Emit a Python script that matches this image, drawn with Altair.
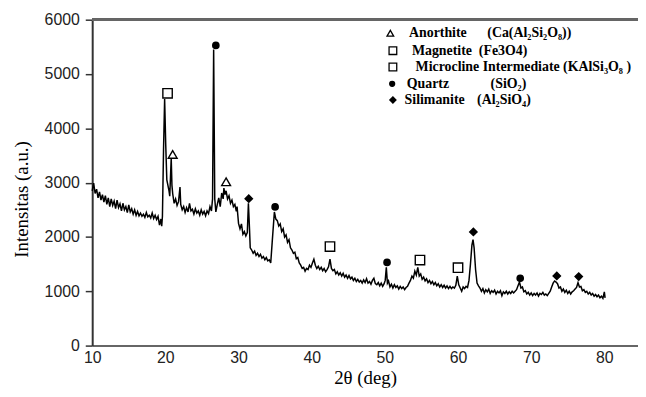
import altair as alt
import pandas as pd

# ---- XRD scan ----
two_theta = [
    10.0, 10.2, 10.4, 10.6, 10.8, 11.0, 11.2, 11.4, 11.6, 11.8,
    12.0, 12.2, 12.4, 12.6, 12.8, 13.0, 13.2, 13.4, 13.6, 13.8,
    14.0, 14.2, 14.4, 14.6, 14.8, 15.0, 15.2, 15.4, 15.6, 15.8,
    16.0, 16.2, 16.4, 16.6, 16.8, 17.0, 17.2, 17.4, 17.6, 17.8,
    18.0, 18.2, 18.4, 18.6, 18.8, 19.0, 19.2, 19.4, 19.5, 19.6,
    19.75, 19.9, 20.05, 20.2, 20.35, 20.5, 20.6, 20.7, 20.8, 20.9,
    21.0, 21.2, 21.4, 21.6, 21.8, 22.0, 22.1, 22.3, 22.5, 22.7,
    22.9, 23.1, 23.3, 23.5, 23.7, 23.9, 24.1, 24.3, 24.5, 24.7,
    24.9, 25.1, 25.3, 25.5, 25.7, 25.9, 26.1, 26.3, 26.45, 26.6,
    26.75, 26.9, 27.1, 27.3, 27.5, 27.7, 27.9, 28.0, 28.15, 28.3,
    28.5, 28.7, 28.9, 29.1, 29.3, 29.5, 29.7, 29.8, 30.0, 30.2,
    30.4, 30.6, 30.8, 31.0, 31.2, 31.35, 31.5, 31.6, 31.8, 32.0,
    32.2, 32.4, 32.6, 32.8, 33.0, 33.2, 33.4, 33.6, 33.8, 34.0,
    34.2, 34.4, 34.6, 34.9, 35.1, 35.3, 35.5, 35.7, 35.9, 36.1,
    36.3, 36.5, 36.7, 36.9, 37.1, 37.3, 37.5, 37.7, 37.9, 38.1,
    38.3, 38.5, 38.7, 38.9, 39.1, 39.3, 39.5, 39.7, 39.9, 40.1,
    40.3, 40.5, 40.7, 40.9, 41.1, 41.3, 41.5, 41.7, 41.9, 42.1,
    42.3, 42.5, 42.7, 42.9, 43.1, 43.3, 43.5, 43.7, 43.9, 44.1,
    44.3, 44.5, 44.7, 44.9, 45.1, 45.3, 45.5, 45.7, 45.9, 46.1,
    46.3, 46.5, 46.7, 46.9, 47.1, 47.3, 47.5, 47.7, 47.9, 48.1,
    48.3, 48.5, 48.7, 48.9, 49.1, 49.3, 49.5, 49.7, 49.9, 50.05,
    50.2, 50.35, 50.5, 50.7, 50.9, 51.1, 51.3, 51.5, 51.7, 51.9,
    52.1, 52.3, 52.5, 52.7, 52.9, 53.1, 53.3, 53.5, 53.7, 53.9,
    54.1, 54.3, 54.5, 54.7, 54.9, 55.1, 55.3, 55.5, 55.7, 55.9,
    56.1, 56.3, 56.5, 56.7, 56.9, 57.1, 57.3, 57.5, 57.7, 57.9,
    58.1, 58.3, 58.5, 58.7, 58.9, 59.1, 59.3, 59.5, 59.7, 59.9,
    60.1, 60.3, 60.5, 60.7, 60.9, 61.1, 61.3, 61.5, 61.7, 61.9,
    62.05, 62.2, 62.4, 62.6, 62.8, 63.0, 63.2, 63.4, 63.6, 63.8,
    64.0, 64.2, 64.4, 64.6, 64.8, 65.0, 65.2, 65.4, 65.6, 65.8,
    66.0, 66.2, 66.4, 66.6, 66.8, 67.0, 67.2, 67.4, 67.6, 67.8,
    68.0, 68.2, 68.4, 68.6, 68.8, 69.0, 69.2, 69.4, 69.6, 69.8,
    70.0, 70.2, 70.4, 70.6, 70.8, 71.0, 71.2, 71.4, 71.6, 71.8,
    72.0, 72.2, 72.4, 72.6, 72.8, 73.0, 73.2, 73.4, 73.6, 73.8,
    74.0, 74.2, 74.4, 74.6, 74.8, 75.0, 75.2, 75.4, 75.6, 75.8,
    76.0, 76.2, 76.4, 76.6, 76.8, 77.0, 77.2, 77.4, 77.6, 77.8,
    78.0, 78.2, 78.4, 78.6, 78.8, 79.0, 79.2, 79.4, 79.6, 79.8,
    80.0, 80.1,
]
intensity = [
    2850, 2990, 2800, 2880, 2720, 2830, 2680, 2780, 2640, 2760,
    2600, 2720, 2560, 2700, 2580, 2660, 2520, 2680, 2540, 2610,
    2480, 2620, 2500, 2560, 2450, 2590, 2460, 2520, 2420, 2500,
    2400, 2470, 2390, 2440, 2380, 2420, 2360, 2450, 2370, 2400,
    2350, 2440, 2340, 2400, 2320, 2380, 2220, 2330, 2200, 2380,
    3600, 4540, 3700, 3050, 2950, 2850, 2750, 3100, 3450, 2950,
    2800, 2620, 2700, 2580, 2650, 2920, 2600, 2500, 2560, 2450,
    2540, 2460, 2620, 2480, 2510, 2420, 2520, 2440, 2480, 2400,
    2500, 2420, 2470, 2390, 2480, 2430, 2560, 2480, 2700, 5450,
    2700, 2460, 2600, 2720, 2560, 2810, 2700, 2900, 2780, 2850,
    2700, 2760, 2620, 2680, 2560, 2600, 2470, 2560, 2250, 2150,
    2240, 2050, 2100, 2020, 2080, 2620, 2150, 1800, 1760, 1700,
    1740, 1660, 1700, 1640, 1680, 1610, 1640, 1580, 1620, 1560,
    1580, 1520, 1900, 2460, 2330, 2300, 2200, 2240, 2100, 2150,
    2000, 2040, 1900, 1950, 1800, 1760, 1700, 1720, 1600, 1620,
    1520, 1480, 1420, 1440, 1370, 1420, 1400, 1480, 1440, 1520,
    1590, 1480, 1420, 1460, 1400, 1440, 1380, 1420, 1360, 1400,
    1450, 1590, 1420, 1380, 1400, 1320, 1360, 1300, 1340, 1280,
    1330, 1260, 1300, 1240, 1290, 1230, 1260, 1200, 1240, 1180,
    1220, 1170, 1200, 1150, 1210, 1160, 1230, 1150, 1180, 1130,
    1200, 1240, 1140, 1120, 1160, 1100, 1150, 1090, 1140, 1200,
    1440, 1150, 1190, 1080, 1130, 1060, 1120, 1070, 1100, 1040,
    1090, 1050, 1080, 1030, 1070, 1090, 1150, 1200, 1280, 1240,
    1370, 1300, 1440, 1280, 1320, 1220, 1260, 1190, 1230, 1160,
    1200, 1140, 1180, 1120, 1160, 1100, 1140, 1080, 1120, 1070,
    1110, 1060, 1100, 1050, 1090, 1050, 1080, 1060, 1110, 1280,
    1120, 1060, 1000, 1080, 1050, 1090, 1070, 1200, 1500, 1850,
    1950, 1800, 1400, 1150, 1100, 1060, 1000, 1050, 970, 1030,
    990, 1040, 960, 1010, 980, 1020, 950, 1000, 970, 1010,
    920, 990, 960, 1000, 950, 990, 960, 1000, 970, 1000,
    1030, 1100, 1170, 1060, 1080, 990, 1010, 950, 980, 930,
    970, 920, 960, 930, 970, 910, 960, 940, 980, 930,
    950, 920, 960, 1000, 1080, 1150, 1190, 1170, 1140, 1060,
    1080, 1000, 1040, 980, 1020, 960, 1000, 950, 990, 1010,
    1040, 1070, 1160, 1080, 1090, 1010, 1030, 980, 1000, 950,
    980, 930, 960, 910, 940, 900, 930, 880, 910, 870,
    990, 880,
]

# ---- phase markers placed over the peaks ----
peak_theta = [20.3, 21.0, 26.9, 28.3, 31.4, 35.0, 42.5, 50.3, 54.8, 60.0, 62.1, 68.5, 73.5, 76.5]
peak_intensity = [4645, 3520, 5526, 3015, 2705, 2553, 1824, 1532, 1574, 1435, 2092, 1240, 1282, 1271]
peak_phase = ["Magnetite", "Anorthite", "Quartz", "Anorthite", "Silimanite", "Quartz",
              "Microcline", "Quartz", "Microcline", "Magnetite", "Silimanite", "Quartz",
              "Silimanite", "Silimanite"]

# ---- key (legend) texts ----
phases = ["Anorthite", "Magnetite", "Microcline", "Quartz", "Silimanite"]
legend_name = ["Anorthite", "Magnetite", "Microcline Intermediate (KAlSi\u2083O\u2088 )", "Quartz", "Silimanite"]
legend_formula = ["(Ca(Al\u2082Si\u2082O\u2088))", "(Fe3O4)", "", "(SiO\u2082)", "(Al\u2082SiO\u2084)"]

x_ticks = [10, 20, 30, 40, 50, 60, 70, 80]
y_ticks = [0, 500, 1000, 1500, 2000, 2500, 3000, 3500, 4000, 4500, 5000, 5500, 6000]

# ---- styles / layout ----
SHAPE = {"Anorthite": "triangle-up", "Magnetite": "square", "Microcline": "square",
         "Quartz": "circle", "Silimanite": "diamond"}
FILL = {"Anorthite": "white", "Magnetite": "white", "Microcline": "white",
        "Quartz": "black", "Silimanite": "black"}
PEAK_SIZE = {"Anorthite": 80, "Magnetite": 90, "Microcline": 90, "Quartz": 40, "Silimanite": 55}
KEY_SIZE = {"Anorthite": 45, "Magnetite": 60, "Microcline": 60, "Quartz": 25, "Silimanite": 38}
key_x = [50.75, 51.1, 51.1, 51.0, 51.1]
name_x = [53.3, 53.7, 54.2, 53.0, 52.7]
formula_x = [64.0, 62.85, 0, 64.45, 62.6]
row_y = [5750, 5430, 5130, 4820, 4523]

n = min(len(two_theta), len(intensity))
scan = pd.DataFrame({"two_theta": two_theta[:n], "intensity": intensity[:n]})

peaks = pd.DataFrame({"two_theta": peak_theta, "intensity": peak_intensity, "phase": peak_phase})
peaks["shape"] = peaks["phase"].map(SHAPE)
peaks["fill"] = peaks["phase"].map(FILL)
peaks["size"] = peaks["phase"].map(PEAK_SIZE)

keys = pd.DataFrame({"two_theta": key_x, "intensity": row_y, "phase": phases})
keys["shape"] = keys["phase"].map(SHAPE)
keys["fill"] = keys["phase"].map(FILL)
keys["size"] = keys["phase"].map(KEY_SIZE)

names = pd.DataFrame({"two_theta": name_x, "intensity": row_y, "label": legend_name})
formulas = pd.DataFrame({"two_theta": formula_x, "intensity": row_y, "label": legend_formula})
formulas = formulas[formulas["label"] != ""]

xs = alt.Scale(domain=[10, 84.6], nice=False, zero=False)
ys = alt.Scale(domain=[0, 6000], nice=False)

xax = alt.Axis(
    values=x_ticks, format="d", title="2\u03b8 (deg)", grid=False, ticks=False, tickSize=0,
    labelFont="Liberation Sans", labelFontSize=16, labelColor="#222", labelPadding=4,
    labelFlush=False, domainColor="#666", domainWidth=2,
    titleFont="Liberation Serif", titleFontSize=19, titleFontWeight="normal",
    titleColor="black", titleY=32, titleBaseline="middle",
)
yax = alt.Axis(
    values=y_ticks, format="d", labelExpr="datum.value % 1000 == 0 ? datum.label : ''",
    title="Intensitas (a.u.)", grid=False, tickSize=7, tickColor="#333", tickWidth=1.5,
    labelFont="Liberation Sans", labelFontSize=16, labelColor="#222", labelPadding=6,
    labelFlush=False, domainColor="#333", domainWidth=2,
    titleFont="Liberation Serif", titleFontSize=19, titleFontWeight="normal",
    titleColor="black", titleX=-71, titleY=181, titleBaseline="middle", titleAlign="center",
)


def X(f):
    return alt.X(f, type="quantitative", scale=xs, axis=xax)


def Y(f):
    return alt.Y(f, type="quantitative", scale=ys, axis=yax)


line = alt.Chart(scan).mark_line(color="black", strokeWidth=1.5).encode(
    x=X("two_theta"), y=Y("intensity")
)
top = alt.Chart(scan).mark_rule(color="#666", strokeWidth=2).encode(y=alt.datum(6000))

peak_marks = alt.Chart(peaks).mark_point(filled=True, stroke="black", strokeWidth=1.4, opacity=1).encode(
    x=X("two_theta"), y=Y("intensity"),
    shape=alt.Shape("shape:N", scale=None),
    fill=alt.Fill("fill:N", scale=None),
    size=alt.Size("size:Q", scale=None),
)
key_marks = alt.Chart(keys).mark_point(filled=True, stroke="black", strokeWidth=1.3, opacity=1).encode(
    x=X("two_theta"), y=Y("intensity"),
    shape=alt.Shape("shape:N", scale=None),
    fill=alt.Fill("fill:N", scale=None),
    size=alt.Size("size:Q", scale=None),
)
txt = dict(align="left", baseline="middle", font="Liberation Serif", fontWeight="bold",
           fontSize=14, color="black")
name_marks = alt.Chart(names).mark_text(**txt).encode(x=X("two_theta"), y=Y("intensity"), text="label:N")
formula_marks = alt.Chart(formulas).mark_text(**txt).encode(x=X("two_theta"), y=Y("intensity"), text="label:N")

chart = alt.layer(line, top, peak_marks, key_marks, name_marks, formula_marks).properties(
    width=551, height=329,
    padding={"left": 85, "top": 10, "right": 0, "bottom": 41},
    autosize=alt.AutoSizeParams(type="none"),
).configure_view(stroke=None)

chart.save("out.html", embed_options={"renderer": "svg", "actions": False})
